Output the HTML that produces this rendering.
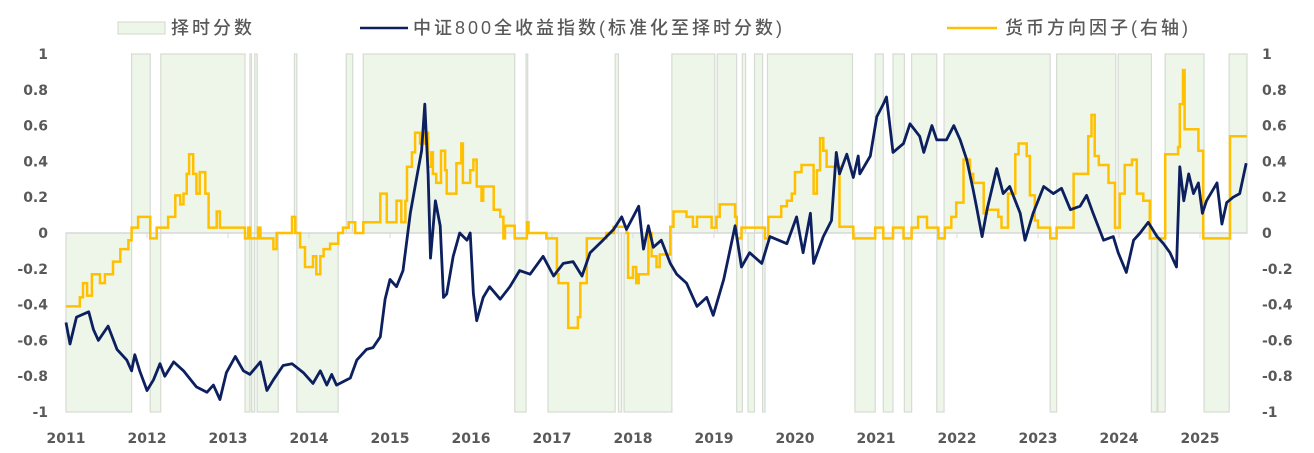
<!DOCTYPE html>
<html><head><meta charset="utf-8">
<style>
body{margin:0;background:#fff;}
svg{display:block;font-family:"Liberation Sans","Noto Sans CJK SC",sans-serif;}
.ax{font-family:"DejaVu Sans","Liberation Sans",sans-serif;font-size:14px;font-weight:bold;fill:#595959;}
.lg{font-size:18px;fill:#595959;letter-spacing:3px;font-weight:500;}
</style></head>
<body>
<svg id="chart" width="1314" height="453">
<g id="shade"></g>
<line x1="66" y1="233" x2="1247" y2="233" stroke="#d9d9d9" stroke-width="1.5"/>
<g id="ticks"></g>
<g id="yl"></g>
<g id="yr"></g>
<path id="orange" fill="none" stroke="#ffc000" stroke-width="2.5"/>
<path id="blue" fill="none" stroke="#0c1f5e" stroke-width="2.8" stroke-linejoin="round"/>
<g>
<rect x="118" y="22" width="47" height="12" fill="#eef6ea" stroke="#d0d8cc"/>
<text x="171" y="34" class="lg">择时分数</text>
<line x1="360" y1="28" x2="408" y2="28" stroke="#0c1f5e" stroke-width="2.6"/>
<text x="413" y="34" class="lg">中证800全收益指数(标准化至择时分数)</text>
<line x1="947" y1="28" x2="997" y2="28" stroke="#ffc000" stroke-width="2.6"/>
<text x="1005" y="34" class="lg">货币方向因子(右轴)</text>
</g>
</svg>
<script>
const shadeStart=[2011.0,2011.81,2012.04,2012.17,2013.21,2013.27,2013.29,2013.33,2013.36,2013.82,2013.85,2014.46,2014.67,2016.54,2016.68,2016.95,2017.78,2017.82,2017.89,2018.48,2019.04,2019.28,2019.35,2019.42,2019.50,2019.60,2019.66,2020.74,2020.99,2021.09,2021.21,2021.35,2021.44,2021.75,2021.84,2023.15,2023.23,2023.99,2024.40,2024.48,2024.57,2025.05,2025.36];
const shadeEnd=[2011.81,2012.04,2012.17,2013.21,2013.27,2013.29,2013.33,2013.36,2013.62,2013.85,2014.36,2014.54,2016.54,2016.68,2016.70,2017.78,2017.82,2017.86,2018.48,2019.01,2019.28,2019.35,2019.39,2019.50,2019.60,2019.63,2020.71,2020.99,2021.09,2021.21,2021.35,2021.44,2021.75,2021.84,2023.15,2023.23,2023.96,2024.40,2024.47,2024.57,2025.05,2025.36,2025.58];
const shadeVal=[-1,1,-1,1,-1,1,-1,1,-1,1,-1,1,1,-1,1,-1,1,-1,-1,1,1,-1,1,-1,1,-1,1,-1,1,-1,1,-1,1,-1,1,-1,1,1,-1,-1,1,-1,1];

const blueT=[2011,2011.05,2011.13,2011.28,2011.34,2011.40,2011.52,2011.63,2011.75,2011.81,2011.85,2011.91,2012.0,2012.08,2012.16,2012.22,2012.33,2012.45,2012.61,2012.74,2012.82,2012.90,2012.98,2013.09,2013.19,2013.27,2013.40,2013.48,2013.56,2013.68,2013.79,2013.93,2014.05,2014.14,2014.22,2014.28,2014.34,2014.51,2014.59,2014.71,2014.79,2014.88,2014.94,2015.0,2015.08,2015.16,2015.25,2015.33,2015.39,2015.43,2015.47,2015.50,2015.56,2015.62,2015.66,2015.70,2015.78,2015.86,2015.95,2015.99,2016.03,2016.07,2016.15,2016.23,2016.36,2016.48,2016.60,2016.73,2016.89,2017.02,2017.14,2017.26,2017.37,2017.47,2017.63,2017.76,2017.86,2017.92,2018.07,2018.13,2018.19,2018.25,2018.35,2018.46,2018.54,2018.66,2018.79,2018.91,2018.99,2019.12,2019.20,2019.26,2019.34,2019.44,2019.59,2019.69,2019.90,2020.02,2020.10,2020.19,2020.23,2020.35,2020.45,2020.51,2020.55,2020.64,2020.72,2020.78,2020.80,2020.93,2021.01,2021.09,2021.13,2021.21,2021.34,2021.42,2021.54,2021.59,2021.69,2021.75,2021.87,2021.96,2022.04,2022.12,2022.20,2022.24,2022.31,2022.37,2022.49,2022.57,2022.65,2022.78,2022.84,2022.94,2023.07,2023.19,2023.29,2023.40,2023.52,2023.60,2023.68,2023.81,2023.93,2023.99,2024.09,2024.18,2024.26,2024.36,2024.47,2024.55,2024.63,2024.71,2024.75,2024.80,2024.86,2024.92,2024.98,2025.03,2025.08,2025.21,2025.27,2025.33,2025.41,2025.49,2025.57];
const blueV=[-0.50,-0.62,-0.47,-0.44,-0.54,-0.60,-0.52,-0.65,-0.71,-0.77,-0.68,-0.77,-0.88,-0.82,-0.73,-0.80,-0.72,-0.77,-0.86,-0.89,-0.85,-0.93,-0.78,-0.69,-0.77,-0.79,-0.72,-0.88,-0.82,-0.74,-0.73,-0.78,-0.84,-0.77,-0.85,-0.79,-0.85,-0.81,-0.71,-0.65,-0.64,-0.58,-0.37,-0.26,-0.30,-0.21,0.11,0.31,0.46,0.72,0.33,-0.14,0.18,0.04,-0.36,-0.34,-0.13,0.0,-0.04,0.0,-0.34,-0.49,-0.36,-0.30,-0.37,-0.30,-0.21,-0.23,-0.13,-0.24,-0.17,-0.16,-0.24,-0.11,-0.04,0.02,0.09,0.02,0.15,-0.09,0.04,-0.08,-0.04,-0.17,-0.23,-0.28,-0.41,-0.36,-0.46,-0.26,-0.09,0.04,-0.19,-0.11,-0.17,-0.02,-0.06,0.09,-0.11,0.11,-0.17,-0.02,0.07,0.45,0.33,0.44,0.31,0.43,0.33,0.43,0.65,0.72,0.76,0.45,0.50,0.61,0.54,0.45,0.60,0.52,0.52,0.60,0.52,0.41,0.24,0.15,-0.02,0.13,0.36,0.22,0.26,0.11,-0.04,0.11,0.26,0.22,0.25,0.13,0.15,0.21,0.11,-0.04,-0.02,-0.11,-0.22,-0.04,0.0,0.06,-0.02,-0.06,-0.11,-0.19,0.37,0.18,0.33,0.22,0.28,0.11,0.18,0.28,0.05,0.17,0.20,0.22,0.39];

const orangeT=[2011,2011.17,2011.21,2011.26,2011.32,2011.42,2011.48,2011.58,2011.67,2011.77,2011.81,2011.89,2012.04,2012.12,2012.26,2012.35,2012.41,2012.45,2012.49,2012.52,2012.57,2012.61,2012.65,2012.72,2012.76,2012.86,2012.90,2012.94,2013.21,2013.25,2013.27,2013.37,2013.40,2013.56,2013.60,2013.79,2013.83,2013.89,2013.95,2014.05,2014.09,2014.14,2014.18,2014.26,2014.36,2014.42,2014.49,2014.57,2014.67,2014.88,2014.96,2015.08,2015.14,2015.19,2015.21,2015.27,2015.31,2015.37,2015.43,2015.47,2015.51,2015.53,2015.57,2015.63,2015.68,2015.70,2015.82,2015.88,2015.90,2015.99,2016.03,2016.07,2016.13,2016.15,2016.28,2016.36,2016.40,2016.42,2016.54,2016.69,2016.71,2016.93,2017.06,2017.08,2017.20,2017.32,2017.35,2017.43,2017.67,2017.76,2017.92,2017.94,2018.00,2018.04,2018.07,2018.19,2018.23,2018.29,2018.33,2018.46,2018.50,2018.66,2018.74,2018.79,2018.97,2019.03,2019.07,2019.26,2019.28,2019.34,2019.63,2019.67,2019.83,2019.90,2019.96,2020.00,2020.08,2020.23,2020.27,2020.31,2020.35,2020.39,2020.55,2020.72,2020.99,2021.09,2021.21,2021.34,2021.44,2021.52,2021.63,2021.77,2021.85,2021.93,2021.99,2022.08,2022.16,2022.20,2022.33,2022.37,2022.51,2022.55,2022.63,2022.72,2022.76,2022.86,2022.90,2022.96,2023.00,2023.15,2023.23,2023.44,2023.62,2023.66,2023.70,2023.75,2023.87,2023.95,2024.01,2024.07,2024.16,2024.22,2024.30,2024.38,2024.57,2024.73,2024.75,2024.79,2024.81,2024.98,2025.04,2025.37,2025.58];
const orangeV=[-0.41,-0.36,-0.28,-0.35,-0.23,-0.28,-0.23,-0.16,-0.09,-0.04,0.03,0.09,-0.03,0.03,0.09,0.21,0.16,0.22,0.33,0.44,0.33,0.22,0.34,0.22,0.03,0.12,0.03,0.03,-0.03,0.03,-0.03,0.03,-0.03,-0.09,0.0,0.09,0.0,-0.08,-0.19,-0.13,-0.23,-0.13,-0.09,-0.06,0.0,0.03,0.06,0.0,0.06,0.22,0.06,0.18,0.06,0.18,0.37,0.45,0.56,0.50,0.56,0.37,0.45,0.33,0.28,0.46,0.35,0.22,0.39,0.50,0.28,0.35,0.41,0.26,0.18,0.26,0.13,0.09,-0.03,0.04,-0.03,0.06,0.0,-0.03,-0.23,-0.28,-0.53,-0.47,-0.28,-0.03,0.0,0.035,0.0,-0.25,-0.19,-0.28,-0.23,0.0,-0.13,-0.19,-0.12,0.035,0.12,0.09,0.035,0.09,0.03,0.09,0.16,0.09,-0.03,0.03,-0.03,0.09,0.15,0.18,0.22,0.34,0.38,0.22,0.35,0.53,0.46,0.37,0.035,-0.03,0.03,-0.03,0.03,-0.03,0.03,0.09,0.03,-0.03,0.03,0.09,0.17,0.41,0.33,0.28,0.11,0.13,0.09,0.03,0.22,0.44,0.50,0.43,0.21,0.07,0.03,-0.03,0.03,0.33,0.54,0.66,0.43,0.38,0.28,0.03,0.22,0.38,0.41,0.22,0.18,-0.03,0.44,0.48,0.72,0.91,0.58,0.46,-0.03,0.54,0.54];

const yearLabels=[2011,2012,2013,2014,2015,2016,2017,2018,2019,2020,2021,2022,2023,2024,2025];
const yTicks=[1,0.8,0.6,0.4,0.2,0,-0.2,-0.4,-0.6,-0.8,-1];

const NS='http://www.w3.org/2000/svg';
const X=t=>66+(t-2011)*81;
const Y=v=>233-v*179;
const mk=(tag,attrs,parent)=>{const e=document.createElementNS(NS,tag);for(const k in attrs)e.setAttribute(k,attrs[k]);parent.appendChild(e);return e;};

const sh=document.getElementById('shade');
shadeStart.forEach((s,i)=>{
  const y0=Y(0),y1=Y(shadeVal[i]);
  const r=mk('rect',{x:X(s),y:Math.min(y0,y1),width:Math.max(0.8,X(shadeEnd[i])-X(s)),height:Math.abs(y1-y0),fill:'#eef6ea',stroke:'#d6dbd3','stroke-width':1.2},sh);
  
  
});

const tk=document.getElementById('ticks');
yearLabels.forEach(y=>{
  const l=mk('line',{x1:X(y),y1:233,x2:X(y),y2:238,stroke:'#d9d9d9'},tk);
  
  
  const t=mk('text',{x:X(y),y:443,'text-anchor':'middle',class:'ax'},tk);
  t.textContent=y;
  
  
});
const yl=document.getElementById('yl'),yr=document.getElementById('yr');
yTicks.forEach(v=>{
  const lab=String(v);
  const a=mk('text',{x:48,y:Y(v)+5,class:'ax','text-anchor':'end'},yl);
  a.textContent=lab;
  
  
  const b=mk('text',{x:1262,y:Y(v)+5,class:'ax','text-anchor':'start'},yr);
  b.textContent=lab;
  
  
});

let d='';
blueT.forEach((t,i)=>{d+=(i?'L':'M')+X(t).toFixed(1)+','+Y(blueV[i]).toFixed(1);});
document.getElementById('blue').setAttribute('d',d);
let o='';
orangeT.forEach((t,i)=>{
  if(i===0)o='M'+X(t).toFixed(1)+','+Y(orangeV[0]).toFixed(1);
  else o+='H'+X(t).toFixed(1)+'V'+Y(orangeV[i]).toFixed(1);
});
document.getElementById('orange').setAttribute('d',o);
</script>
</body></html>
